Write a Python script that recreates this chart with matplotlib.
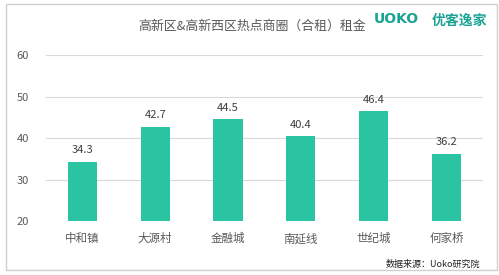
import matplotlib
matplotlib.use("Agg")
import matplotlib.pyplot as plt
from matplotlib.patches import Rectangle

plt.rcParams['font.family'] = ['Noto Sans CJK SC', 'DejaVu Sans']

categories = ["中和镇", "大源村", "金融城", "南延线", "世纪城", "何家桥"]
values = [34.3, 42.7, 44.5, 40.4, 46.4, 36.2]
yticks = [20, 30, 40, 50, 60]

fig = plt.figure(figsize=(4.99, 2.75), dpi=100)
ax = fig.add_axes([0.092, 0.196, 0.876, 0.604])

bar_color = "#2bc4a3"
x = range(len(categories))
bars = ax.bar(x, values, width=0.4, color=bar_color, zorder=3)
for xi, v in zip(x, values):
    ax.text(xi, v + 1.6, f"{v}", ha="center", va="bottom", fontsize=8, color="#404040")

ax.set_ylim(20, 60)
ax.set_xlim(-0.5, len(categories) - 0.5)
ax.set_yticks(yticks)
ax.set_yticklabels([str(t) for t in yticks], fontsize=8, color="#595959")
ax.set_xticks(list(x))
ax.set_xticklabels(categories, fontsize=8.3, color="#595959")
ax.tick_params(axis="both", length=0)
ax.tick_params(axis="y", pad=12)
ax.tick_params(axis="x", pad=8)
ax.grid(axis="y", color="#d9d9d9", linewidth=0.8, zorder=0)
for s in ax.spines.values():
    s.set_visible(False)

fig.text(0.505, 0.905, "高新区&高新西区热点商圈（合租）租金", ha="center", va="center",
         fontsize=9.3, color="#595959")
fig.text(0.748, 0.93, "UOKO", ha="left", va="center", fontsize=10, color="#1aa394",
         fontweight="bold", family=["DejaVu Sans"])
fig.text(0.866, 0.925, "优客逸家", ha="left", va="center", fontsize=10, color="#1aa394",
         fontweight="bold")
fig.text(0.962, 0.04, "数据来源：Uoko研究院", ha="right", va="center", fontsize=6.5, color="#222222")

fig.patches.append(Rectangle((0.012, 0.018), 0.984, 0.967, transform=fig.transFigure,
                             fill=False, edgecolor="#d0d0d0", linewidth=1))

fig.savefig("out.png", dpi=100)
